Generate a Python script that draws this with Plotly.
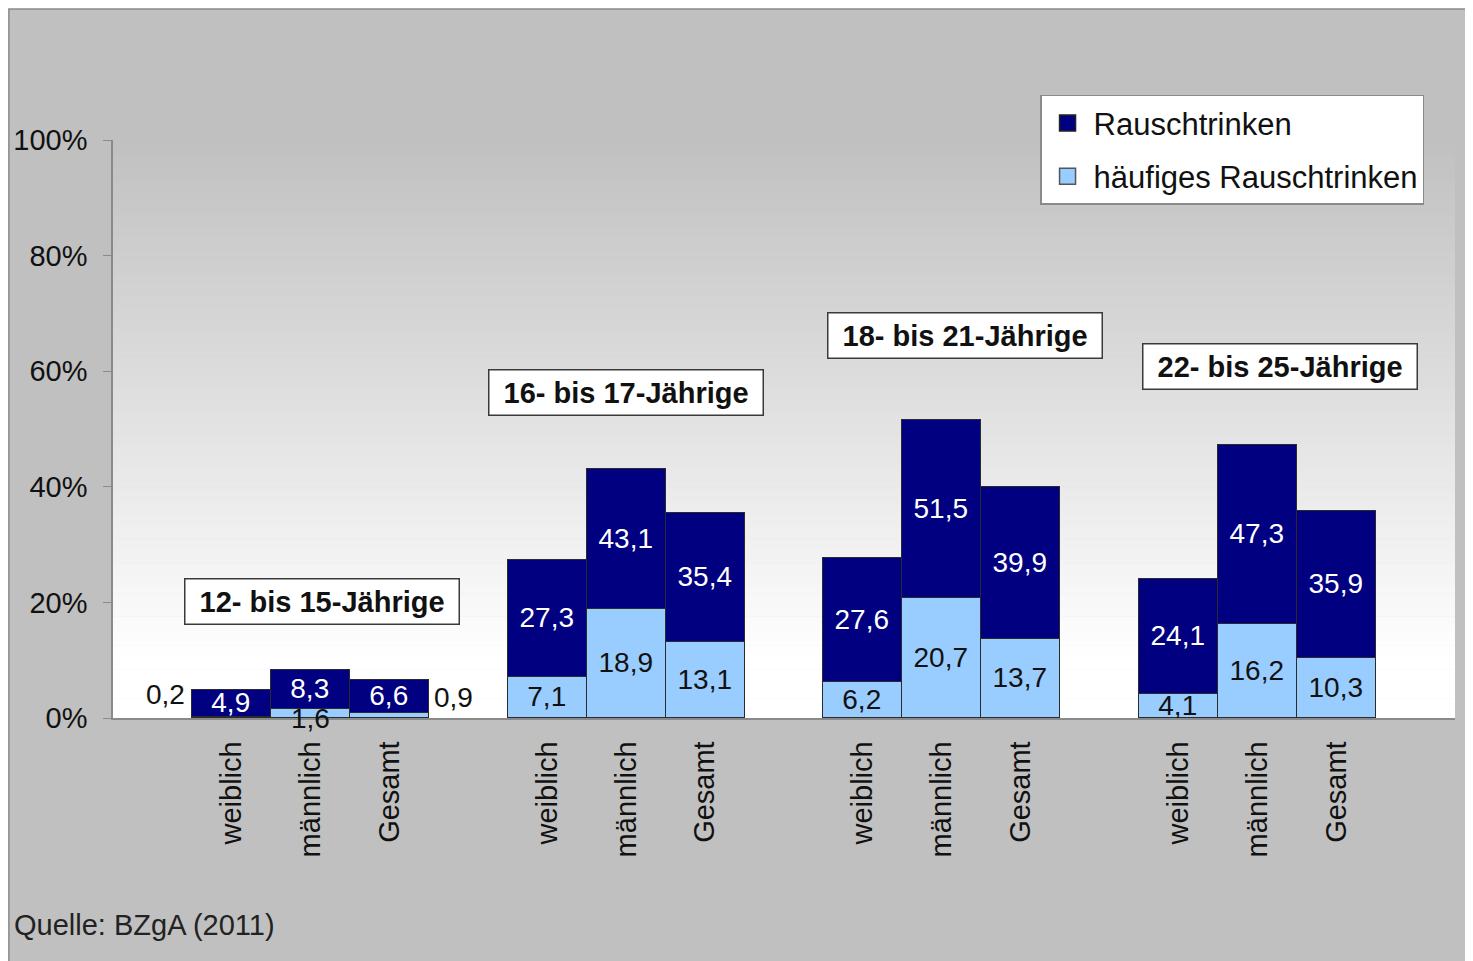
import plotly.graph_objects as go

# Data
age_groups = ["12- bis 15-Jährige", "16- bis 17-Jährige", "18- bis 21-Jährige", "22- bis 25-Jährige"]
sexes = ["weiblich", "männlich", "Gesamt"]
rausch = [
    [4.9, 8.3, 6.6],
    [27.3, 43.1, 35.4],
    [27.6, 51.5, 39.9],
    [24.1, 47.3, 35.9],
]
haeufig = [
    [0.2, 1.6, 0.9],
    [7.1, 18.9, 13.1],
    [6.2, 20.7, 13.7],
    [4.1, 16.2, 10.3],
]
y_ticks = [0, 20, 40, 60, 80, 100]

FONT = "Liberation Sans, Arial, sans-serif"
DARK = "#000080"
LIGHT = "#99ccff"
OUTLINE = "#2b2b2b"
LABEL_SIZE = 28


def fmt(v):
    return f"{v:.1f}".replace(".", ",")


# one empty slot between groups, group g -> slots 4g+1..4g+3
xs, tick_text, r_vals, h_vals = [], [], [], []
for g in range(len(age_groups)):
    for k, s in enumerate(sexes):
        xs.append(g * 4 + 1 + k)
        tick_text.append(s)
        r_vals.append(rausch[g][k])
        h_vals.append(haeufig[g][k])

# the tiny first-group values are labelled outside the bars
h_text = ["" if i < 3 else fmt(v) for i, v in enumerate(h_vals)]

fig = go.Figure()
fig.add_trace(go.Bar(
    x=xs, y=h_vals,
    name="häufiges Rauschtrinken",
    marker=dict(color=LIGHT, line=dict(color=OUTLINE, width=1.5)),
    text=h_text, textposition="inside", insidetextanchor="middle", textangle=0,
    textfont=dict(family=FONT, size=LABEL_SIZE, color="#111111"),
    showlegend=False, hoverinfo="skip",
))
fig.add_trace(go.Bar(
    x=xs, y=[r - h for r, h in zip(r_vals, h_vals)],
    name="Rauschtrinken",
    marker=dict(color=DARK, line=dict(color=OUTLINE, width=1.5)),
    text=[fmt(v) for v in r_vals], textposition="inside", insidetextanchor="middle", textangle=0,
    textfont=dict(family=FONT, size=LABEL_SIZE, color="white"),
    showlegend=False, hoverinfo="skip",
))

# legend entries with bigger square swatches
for name, col, line_col, rank in [("Rauschtrinken", DARK, "#222222", 1),
                                  ("häufiges Rauschtrinken", LIGHT, "#555555", 2)]:
    fig.add_trace(go.Scatter(
        x=[None], y=[None], mode="markers", name=name,
        marker=dict(symbol="square", size=16, color=col, line=dict(color=line_col, width=1.5)),
        legendgroup=name, legendrank=rank, hoverinfo="skip",
    ))

# background: grey page with frame, plot area gradient grey -> white
shapes = [dict(type="rect", xref="paper", yref="paper",
               x0=-0.0776, x1=1.03, y0=-0.45, y1=1.2268,
               fillcolor="#c0c0c0", line=dict(color="#8a8a8a", width=1.5), layer="below")]
n_bands = 120
for i in range(n_bands):
    t = (i + 0.5) / n_bands  # 0 bottom, 1 top
    v = 255 if t < 0.1 else round(255 - 63 * (t - 0.1) / 0.9)
    shapes.append(dict(type="rect", xref="paper", yref="paper",
                       x0=0, x1=1, y0=i / n_bands, y1=(i + 1) / n_bands + 0.001,
                       fillcolor=f"rgb({v},{v},{v})", line=dict(width=0), layer="below"))

annotations = []
# group labels in boxes
group_pos = [(2.15, 20.2), (6.0, 56.4), (10.29, 66.1), (14.28, 60.9)]
for name, (gx, gy) in zip(age_groups, group_pos):
    annotations.append(dict(
        x=gx, y=gy, text=f"&nbsp;<b>{name}</b>&nbsp;", showarrow=False,
        font=dict(family=FONT, size=29, color="#111111"),
        bgcolor="white", bordercolor="#3a3a3a", borderwidth=1.5, borderpad=6,
    ))

# outside labels for the first group's light values
annotations.append(dict(x=xs[0] - 0.5, y=4.1, text=fmt(h_vals[0]), showarrow=False,
                        xanchor="right", xshift=-5,
                        font=dict(family=FONT, size=LABEL_SIZE, color="#111111")))
annotations.append(dict(x=xs[1], y=0, text=fmt(h_vals[1]), showarrow=False,
                        font=dict(family=FONT, size=LABEL_SIZE, color="#111111")))
annotations.append(dict(x=xs[2] + 0.5, y=3.6, text=fmt(h_vals[2]), showarrow=False,
                        xanchor="left", xshift=3,
                        font=dict(family=FONT, size=LABEL_SIZE, color="#111111")))

annotations.append(dict(x=-0.0753, y=-0.389, xref="paper", yref="paper",
                        text="Quelle: BZgA (2011)", showarrow=False, xanchor="left",
                        font=dict(family=FONT, size=29, color="#222222")))

# the page body adds an 8px margin, so the figure is shrunk by that amount
fig.update_layout(
    width=1465, height=953,
    margin=dict(l=105, r=18, t=132, b=243),
    paper_bgcolor="white",
    plot_bgcolor="rgba(0,0,0,0)",
    barmode="stack", bargap=0,
    font=dict(family=FONT, size=28, color="#111111"),
    uniformtext=dict(minsize=LABEL_SIZE, mode="show"),
    shapes=shapes,
    annotations=annotations,
    showlegend=True,
    legend=dict(
        x=0.6908, y=1.078, xanchor="left", yanchor="top",
        bgcolor="white", bordercolor="#8a8a8a", borderwidth=1.5,
        font=dict(family=FONT, size=31, color="#111111"),
        tracegroupgap=10, itemwidth=42,
    ),
    xaxis=dict(
        range=[-0.5, 16.5], tickvals=xs, ticktext=tick_text, tickangle=-90,
        showgrid=False, zeroline=False, showline=True, linecolor="#8a8a8a", linewidth=1.5,
        ticks="", ticklabelstandoff=10, automargin=False,
        tickfont=dict(family=FONT, size=29, color="#111111"),
        fixedrange=True,
    ),
    yaxis=dict(
        range=[0, 100], tickvals=y_ticks, ticktext=[f"{v}%" for v in y_ticks],
        showgrid=False, zeroline=False, showline=True, linecolor="#8a8a8a", linewidth=1.5,
        ticks="outside", ticklen=8, tickcolor="#8a8a8a", ticklabelstandoff=10, automargin=False,
        tickfont=dict(family=FONT, size=29, color="#111111"),
        fixedrange=True,
    ),
)

fig.write_html("out.html")
